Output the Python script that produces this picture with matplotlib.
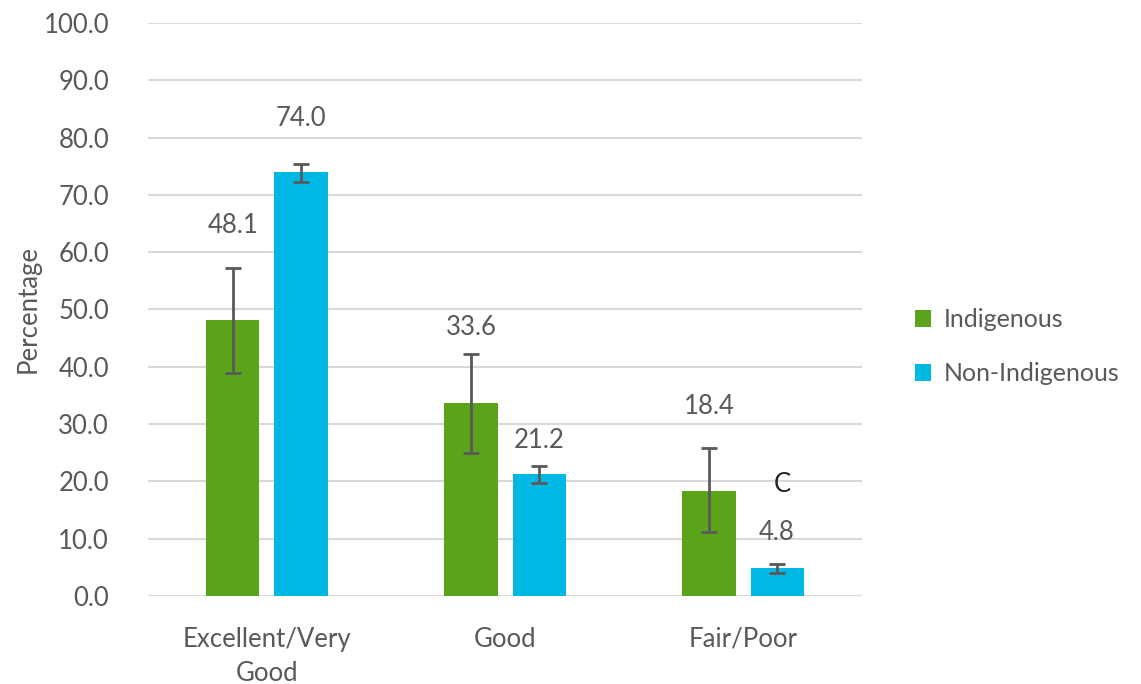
import matplotlib.pyplot as plt
import numpy as np

categories = ["Excellent/Very\nGood", "Good", "Fair/Poor"]
indigenous = [48.1, 33.6, 18.4]
indigenous_lo = [38.9, 25.0, 11.2]
indigenous_hi = [57.3, 42.2, 25.8]
non_indigenous = [74.0, 21.2, 4.8]
non_indigenous_lo = [72.3, 19.7, 4.0]
non_indigenous_hi = [75.4, 22.7, 5.6]
indigenous_labels = ["48.1", "33.6", "18.4"]
non_indigenous_labels = ["74.0", "21.2", "4.8"]

plt.rcParams["font.family"] = ["Lato", "DejaVu Sans"]
text_color = "#595959"
green = "#5BA31A"
blue = "#00B8E4"
fs = 18.5

fig = plt.figure(figsize=(11.41, 6.84), dpi=100)
ax = fig.add_axes([0.1297, 0.1287, 0.6258, 0.8377])

x = np.arange(len(categories))
w = 0.223
off = 0.143

ind = np.array(indigenous)
non = np.array(non_indigenous)
ind_err = [ind - np.array(indigenous_lo), np.array(indigenous_hi) - ind]
non_err = [non - np.array(non_indigenous_lo), np.array(non_indigenous_hi) - non]

ax.bar(x - off, ind, w, color=green, label="Indigenous", zorder=3)
ax.bar(x + off, non, w, color=blue, label="Non-Indigenous", zorder=3)
ax.errorbar(x - off, ind, yerr=ind_err, fmt="none", ecolor=text_color,
            elinewidth=2, capsize=6, capthick=2, zorder=4)
ax.errorbar(x + off, non, yerr=non_err, fmt="none", ecolor=text_color,
            elinewidth=2, capsize=6, capthick=2, zorder=4)

# label offsets above the upper error cap (as placed in the original)
ind_pad = [7.4, 4.6, 7.2]
non_pad = [8.0, 4.5, 5.4]
for xi, hi, p, lab in zip(x - off, indigenous_hi, ind_pad, indigenous_labels):
    ax.text(xi, hi + p, lab, ha="center", va="center", fontsize=fs, color=text_color)
for xi, hi, p, lab in zip(x + off, non_indigenous_hi, non_pad, non_indigenous_labels):
    ax.text(xi, hi + p, lab, ha="center", va="center", fontsize=fs, color=text_color)
ax.text(x[2] + off + 0.02, 19.5, "C", ha="center", va="center", fontsize=fs, color="#222222")

ax.set_ylim(0, 100)
ax.set_xlim(-0.5, 2.5)
ax.set_yticks(np.arange(0, 101, 10))
ax.set_yticklabels([f"{v:.1f}" for v in np.arange(0, 101, 10)])
ax.set_xticks(x)
ax.set_xticklabels(categories, linespacing=1.45)
ax.tick_params(axis="both", length=0, labelsize=fs, labelcolor=text_color)
ax.tick_params(axis="y", pad=28)
ax.tick_params(axis="x", pad=22)
ax.grid(axis="y", color="#D9D9D9", linewidth=1.5, zorder=0)
for s in ax.spines.values():
    s.set_visible(False)
ax.set_ylabel("Percentage", fontsize=fs, color=text_color, labelpad=2)

ax.legend(loc="center left", bbox_to_anchor=(1.043, 0.435), frameon=False,
          fontsize=fs - 0.5, labelcolor=text_color, handlelength=0.65, handleheight=0.65,
          handletextpad=0.5, labelspacing=1.25)

fig.savefig("out.png", dpi=100)
